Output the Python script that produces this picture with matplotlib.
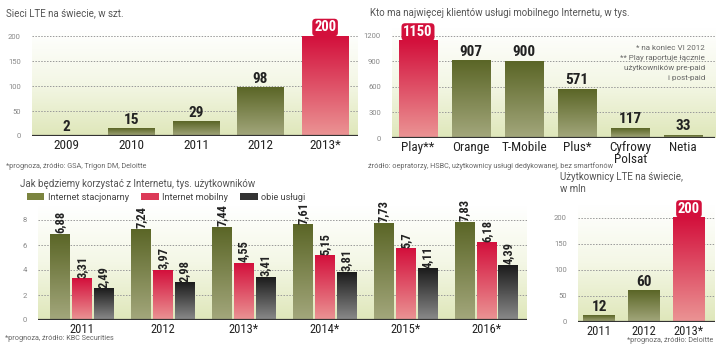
import numpy as np
import matplotlib.pyplot as plt
from matplotlib import font_manager
from matplotlib.colors import LinearSegmentedColormap
from matplotlib.patches import Patch

# dane
lte_lata = ["2009", "2010", "2011", "2012", "2013*"]
lte_sieci = [2, 15, 29, 98, 200]

operatorzy = ["Play**", "Orange", "T-Mobile", "Plus*", "Cyfrowy\nPolsat", "Netia"]
klienci = [1150, 907, 900, 571, 117, 33]

lata_int = ["2011", "2012", "2013*", "2014*", "2015*", "2016*"]
stacjonarny = [6.88, 7.24, 7.44, 7.61, 7.73, 7.83]
mobilny = [3.31, 3.97, 4.55, 5.15, 5.7, 6.18]
obie = [2.49, 2.98, 3.41, 3.81, 4.11, 4.39]

lte_uz_lata = ["2011", "2012", "2013*"]
lte_uz = [12, 60, 200]

W, H = 720, 350

# waska czcionka, jesli jest
installed = {f.name for f in font_manager.fontManager.ttflist}
narrow = [n for n in ["Liberation Sans Narrow", "Roboto Condensed",
                      "DejaVu Sans Condensed", "Open Sans Condensed"] if n in installed]
CONDENSED = narrow[:1] + ["Roboto", "DejaVu Sans"]
SCALE = 1.0 if narrow else 0.88
plt.rcParams["font.family"] = ["Roboto", "DejaVu Sans"]

green = LinearSegmentedColormap.from_list("g", ["#a3a77c", "#5b6627"])
red = LinearSegmentedColormap.from_list("r", ["#eb9494", "#d3103c"])
black = LinearSegmentedColormap.from_list("k", ["#8a8a8a", "#1c1c1c"])
tlo = LinearSegmentedColormap.from_list("t", ["#dfe7ba", "#f4f7e6", "#ffffff"])
grad = np.linspace(0, 1, 100).reshape(-1, 1)

fig = plt.figure(figsize=(W / 100, H / 100), dpi=100)


def px_axes(l, t, r, b):
    return fig.add_axes([l / W, 1 - b / H, (r - l) / W, (b - t) / H])


def ftext(x, y, s, **kw):
    fig.text(x / W, 1 - y / H, s, **kw)


def prepare(ax, yticks, ytop, xlim):
    ax.imshow(grad, extent=(0, 1, 0, 1), transform=ax.transAxes, cmap=tlo,
              origin="lower", aspect="auto", zorder=0)
    for s in ax.spines.values():
        s.set_visible(False)
    ax.set_yticks(yticks)
    ax.tick_params(axis="y", length=0, labelsize=5.5, labelcolor="#888", pad=8)
    ax.tick_params(axis="x", length=0, pad=2)
    for t in yticks[1:]:
        ax.axhline(t, color="#999", lw=0.7, ls=(0, (1.5, 1.5)), zorder=1)
    ax.axhline(0, color="#333", lw=1.6, zorder=5)
    ax.set_xlim(*xlim)
    ax.set_ylim(0, ytop)


def gradient_bars(ax, bars, cmaps):
    for b, cm in zip(bars, cmaps):
        x0, y0, w, h = b.get_x(), b.get_y(), b.get_width(), b.get_height()
        b.set_facecolor("none")
        b.set_edgecolor("none")
        ax.imshow(grad, extent=(x0, x0 + w, y0, y0 + h), cmap=cm,
                  origin="lower", aspect="auto", zorder=3)


def xlabels(ax, labels, size=9.5):
    ax.set_xticks(range(len(labels)))
    ax.set_xticklabels(labels, fontsize=size * SCALE, family=CONDENSED,
                       color="#222", va="top", linespacing=0.95)


def value(ax, x, y, s, size=11, **kw):
    ax.text(x, y, s, ha="center", va="bottom", weight="bold",
            fontsize=size * SCALE, family=CONDENSED, color="#222", zorder=6,
            clip_on=False, **kw)


def highlight(ax, x, y, s, size=10.5):
    ax.text(x, y, s, ha="center", va="bottom", color="white", weight="bold",
            fontsize=size * SCALE, family=CONDENSED, zorder=6, clip_on=False,
            bbox=dict(boxstyle="round,pad=0.12,rounding_size=0.25",
                      fc="#d3103c", ec="none"))


# 1. Sieci LTE
ax1 = px_axes(32, 29, 358, 136)
x = np.arange(len(lte_lata))
bars = ax1.bar(x, lte_sieci, width=0.72, zorder=3)
gradient_bars(ax1, bars, [green] * 4 + [red])
prepare(ax1, [0, 50, 100, 150, 200], 215, (-0.54, 4.51))
xlabels(ax1, lte_lata)
for i, v in enumerate(lte_sieci[:-1]):
    value(ax1, i, v + 3, str(v))
highlight(ax1, 4, 204, "200")
ftext(6, 13, "Sieci LTE na świecie, w szt.", fontsize=7, color="#555", va="center")
ftext(6, 167, "*prognoza, źródło: GSA, Trigon DM, Deloitte", fontsize=5.2,
      color="#666", va="center")

# 2. Klienci mobilnego Internetu
ax2 = px_axes(392, 28, 715, 138)
x = np.arange(len(operatorzy))
bars = ax2.bar(x, klienci, width=0.72, zorder=3)
gradient_bars(ax2, bars, [red] + [green] * 5)
prepare(ax2, [0, 300, 600, 900, 1200], 1294, (-0.49, 5.6))
xlabels(ax2, operatorzy)
for i, v in enumerate(klienci[1:], start=1):
    value(ax2, i, v + 25, str(v))
highlight(ax2, 0, 1165, "1150")
przypisy = ["* na koniec VI 2012", "** Play raportuje łącznie",
            "użytkowników pre-paid", "i post-paid"]
for n, linia in enumerate(przypisy):
    ftext(705, 48 + n * 10, linia, fontsize=5.8, color="#666",
          ha="right", va="center")
ftext(370, 13, "Kto ma najwięcej klientów usługi mobilnego Internetu, w tys.",
      fontsize=7, color="#555", va="center")
ftext(368, 166, "źródło: oepratorzy, HSBC, użytkownicy usługi dedykowanej, bez smartfonów",
      fontsize=5.2, color="#666", va="center")

# 3. Jak będziemy korzystać z Internetu
ax3 = px_axes(38, 205, 527, 320)
x = np.arange(len(lata_int))
off = 0.27
serie = [(stacjonarny, green), (mobilny, red), (obie, black)]
for k, (vals, cm) in enumerate(serie):
    bars = ax3.bar(x + (k - 1) * off, vals, width=0.245, zorder=3)
    gradient_bars(ax3, bars, [cm] * len(vals))
    for xi, v in zip(x, vals):
        value(ax3, xi + (k - 1) * off, v + 0.08, f"{v}".replace(".", ","),
              size=9, rotation=90)
prepare(ax3, [0, 2, 4, 6, 8], 9.2, (-0.54, 5.5))
xlabels(ax3, lata_int, size=9)
ftext(20, 184, "Jak będziemy korzystać z Internetu, tys. użytkowników",
      fontsize=7, color="#555", va="center")
handles = [Patch(fc="#7b843f", ec="none"), Patch(fc="#dc3a58", ec="none"),
           Patch(fc="#333", ec="none")]
fig.legend(handles, ["Internet stacjonarny", "Internet mobilny", "obie usługi"],
           loc="center left", bbox_to_anchor=(27 / W, 1 - 197 / H), ncol=3,
           frameon=False, fontsize=6.6, handlelength=1.9, handleheight=0.8,
           handletextpad=0.4, columnspacing=1.3, labelcolor="#444",
           borderaxespad=0, borderpad=0)
ftext(5, 339, "*prognoza, źródło: KBC Securities", fontsize=5.2, color="#666",
      va="center")

# 4. Użytkownicy LTE
ax4 = px_axes(578, 205, 715, 322)
x = np.arange(len(lte_uz_lata))
bars = ax4.bar(x, lte_uz, width=0.71, zorder=3)
gradient_bars(ax4, bars, [green, green, red])
prepare(ax4, [0, 50, 100, 150, 200], 225, (-0.47, 2.58))
xlabels(ax4, lte_uz_lata, size=9)
for i, v in enumerate(lte_uz[:-1]):
    value(ax4, i, v + 4, str(v))
highlight(ax4, 2, 204, "200")
ftext(560, 183, "Użytkownicy LTE na świecie,\nw mln", fontsize=7, color="#555",
      va="center", linespacing=1.2)
ftext(713, 340, "*prognoza, źródło: Deloitte", fontsize=5.2, color="#666",
      ha="right", va="center")

fig.savefig("out.png", dpi=100)
